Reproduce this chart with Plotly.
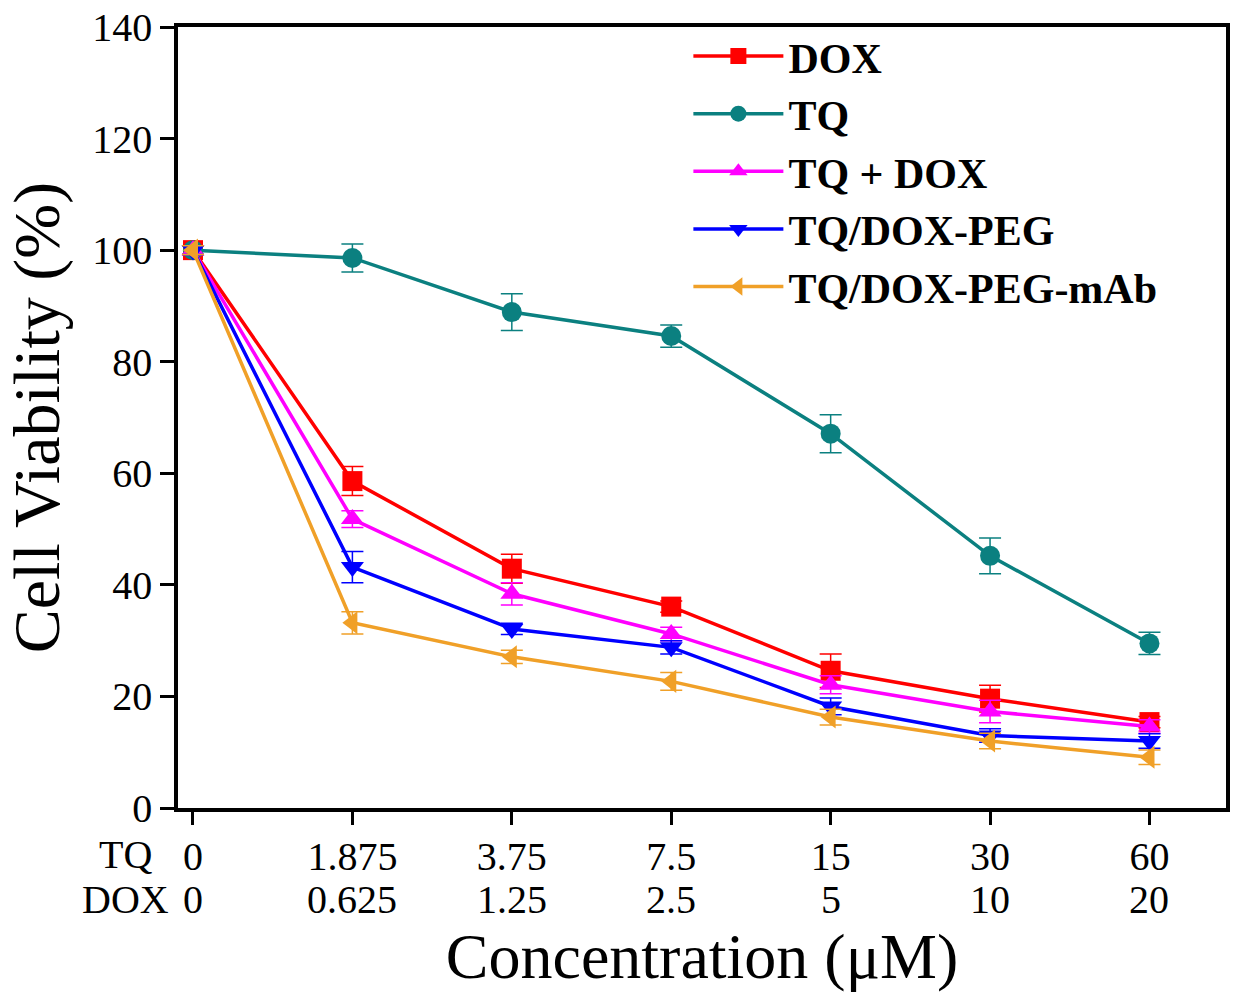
import plotly.graph_objects as go

tq_conc = ["0", "1.875", "3.75", "7.5", "15", "30", "60"]
dox_conc = ["0", "0.625", "1.25", "2.5", "5", "10", "20"]

dox = [100, 58.6, 42.9, 36.1, 24.6, 19.6, 15.4]
dox_err = [0.8, 2.6, 2.6, 1.0, 3.0, 2.4, 1.0]
tq = [100, 98.6, 88.9, 84.6, 67.1, 45.2, 29.5]
tq_err = [0.8, 2.5, 3.3, 2.0, 3.4, 3.2, 2.0]
tq_dox = [100, 51.8, 38.4, 31.2, 22.1, 17.3, 14.6]
tq_dox_err = [0.8, 1.5, 2.0, 1.2, 1.6, 2.0, 1.2]
peg = [100, 43.2, 32.1, 28.8, 18.2, 13.0, 12.0]
peg_err = [0.8, 2.8, 1.0, 1.2, 1.5, 1.2, 1.3]
mab = [100, 33.2, 27.1, 22.7, 16.3, 12.0, 9.1]
mab_err = [0.8, 2.0, 1.2, 1.6, 1.4, 1.4, 1.3]

series = [
    ("DOX", dox, dox_err, "#FF0000", "square"),
    ("TQ", tq, tq_err, "#0B8080", "circle"),
    ("TQ + DOX", tq_dox, tq_dox_err, "#FF00FF", "triangle-up"),
    ("TQ/DOX-PEG", peg, peg_err, "#0000FF", "triangle-down"),
    ("TQ/DOX-PEG-mAb", mab, mab_err, "#F0A028", "triangle-left"),
]

fig = go.Figure()
for name, vals, errs, col, sym in series:
    fig.add_trace(go.Scatter(
        x=tq_conc, y=vals, name=name, mode="lines+markers",
        line=dict(color=col, width=3.5),
        marker=dict(color=col, symbol=sym, size=20),
        error_y=dict(type="data", array=errs, color=col, thickness=1.5, width=11, visible=True),
    ))

serif = "Liberation Serif, Times New Roman, serif"
fig.update_layout(
    width=1235, height=1000,
    margin=dict(l=178, r=5, t=22, b=192),
    plot_bgcolor="white", paper_bgcolor="white",
    font=dict(family=serif, color="black", size=40),
    showlegend=True,
    legend=dict(x=0.487, y=1.006, xanchor="left", yanchor="top",
                font=dict(family=serif, size=42, color="black", weight="bold"),
                bgcolor="rgba(0,0,0,0)", itemwidth=90, tracegroupgap=0,
                traceorder="normal"),
)
fig.update_xaxes(
    type="category", categoryorder="array", categoryarray=tq_conc,
    range=[-0.094, 6.48],
    tickvals=tq_conc, ticktext=tq_conc,
    ticks="outside", ticklen=13, tickwidth=3, tickcolor="black",
    ticklabelstandoff=-3,
    showline=True, linecolor="black", linewidth=3.5, mirror=True,
    showgrid=False, zeroline=False,
    tickfont=dict(size=40),
    title=dict(text="Concentration (μM)", font=dict(size=64), standoff=56),
)
fig.update_yaxes(
    range=[0, 140], tickvals=[0, 20, 40, 60, 80, 100, 120, 140],
    ticks="outside", ticklen=14, tickwidth=3, tickcolor="black",
    showline=True, linecolor="black", linewidth=3.5, mirror=True,
    showgrid=False, zeroline=False,
    tickfont=dict(size=40),
    title=dict(text="Cell Viability (%)", font=dict(size=66), standoff=12),
)
# second tick-label row (DOX concentrations), placed at each category index
for i, lab in enumerate(dox_conc):
    fig.add_annotation(text=lab, x=i, xref="x", yref="paper", y=-0.1175,
                       xanchor="center", yanchor="middle", showarrow=False,
                       font=dict(size=40))
fig.add_annotation(text="TQ", xref="paper", yref="paper", x=-0.0504, y=-0.0598,
                   xanchor="center", yanchor="middle", showarrow=False,
                   font=dict(size=40))
fig.add_annotation(text="DOX", xref="paper", yref="paper", x=-0.0504, y=-0.1175,
                   xanchor="center", yanchor="middle", showarrow=False,
                   font=dict(size=40))
fig.write_html("out.html")
